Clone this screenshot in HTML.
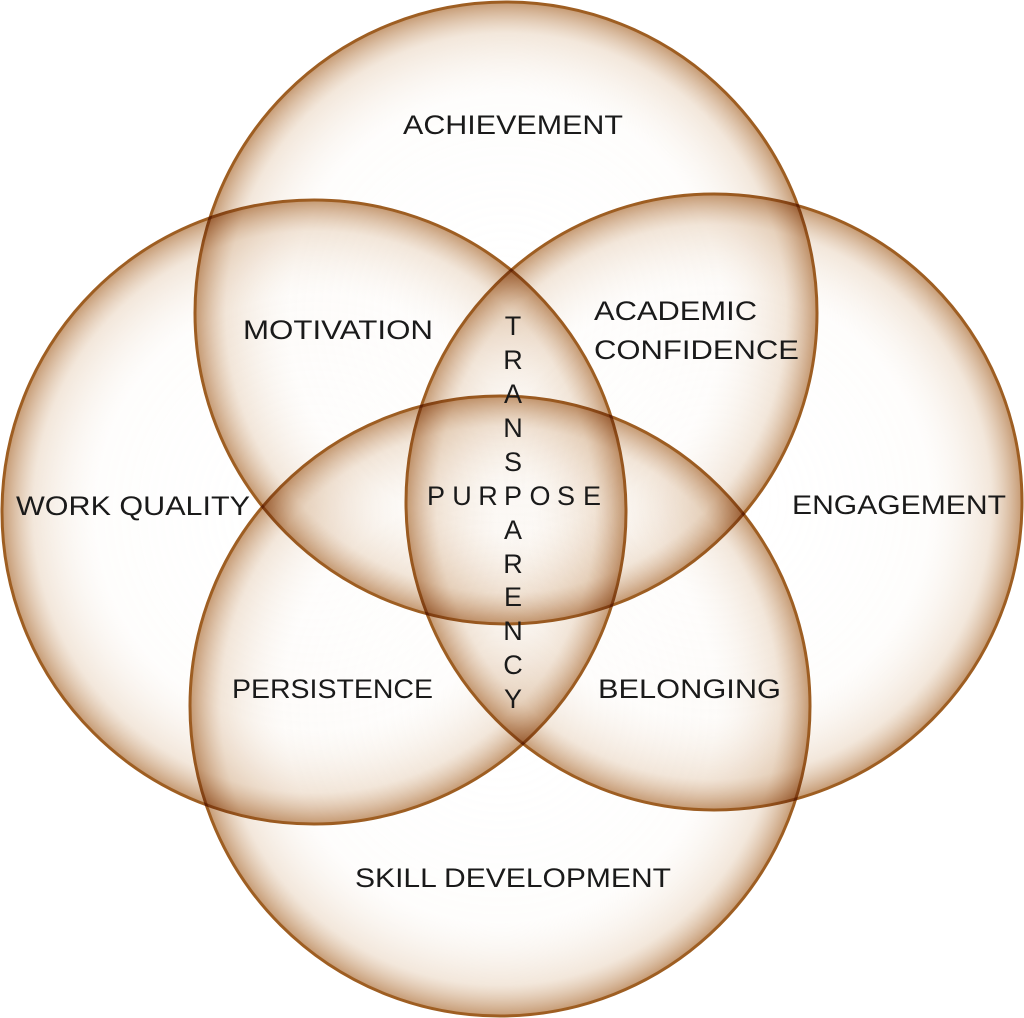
<!DOCTYPE html>
<html><head><style>
html,body{margin:0;padding:0;background:#fff;}
svg{display:block;}
text{font-family:"Liberation Sans",sans-serif;font-size:27px;fill:#1a1a1a;}
</style></head><body>
<svg width="1024" height="1018" viewBox="0 0 1024 1018" xmlns="http://www.w3.org/2000/svg">
<defs>
<radialGradient id="g" cx="50%" cy="50%" r="50%">
<stop offset="0" stop-color="#fff" stop-opacity="0"/>
<stop offset="0.7" stop-color="#f5ebe0" stop-opacity="0.1"/>
<stop offset="0.9" stop-color="#e0c3a5" stop-opacity="0.4"/>
<stop offset="1" stop-color="#b27844" stop-opacity="0.75"/>
</radialGradient>
</defs>
<g stroke="#9e5e22" stroke-width="3" fill="url(#g)">
<circle cx="506" cy="313" r="311" style="mix-blend-mode:multiply"/>
<circle cx="314" cy="512" r="312" style="mix-blend-mode:multiply"/>
<circle cx="714" cy="502" r="308" style="mix-blend-mode:multiply"/>
<circle cx="500" cy="706" r="310" style="mix-blend-mode:multiply"/>
</g>
<g lengthAdjust="spacingAndGlyphs">
<text x="403" y="134" textLength="220" lengthAdjust="spacingAndGlyphs">ACHIEVEMENT</text>
<text x="243" y="339" textLength="190" lengthAdjust="spacingAndGlyphs">MOTIVATION</text>
<text x="594" y="320" textLength="163" lengthAdjust="spacingAndGlyphs">ACADEMIC</text>
<text x="594" y="359" textLength="205" lengthAdjust="spacingAndGlyphs">CONFIDENCE</text>
<text x="16" y="515" textLength="234" lengthAdjust="spacingAndGlyphs">WORK QUALITY</text>
<text x="792" y="514" textLength="214" lengthAdjust="spacingAndGlyphs">ENGAGEMENT</text>
<text x="232" y="698" textLength="201" lengthAdjust="spacingAndGlyphs">PERSISTENCE</text>
<text x="598" y="698" textLength="183" lengthAdjust="spacingAndGlyphs">BELONGING</text>
<text x="355" y="887" textLength="316" lengthAdjust="spacingAndGlyphs">SKILL DEVELOPMENT</text>
</g>
<g text-anchor="middle">
<text x="436" y="505">P</text><text x="462" y="505">U</text><text x="488" y="505">R</text>
<text x="513" y="505">P</text><text x="540" y="505">O</text><text x="566" y="505">S</text><text x="592" y="505">E</text>
<text x="513" y="335">T</text><text x="513" y="369">R</text><text x="513" y="403">A</text>
<text x="513" y="437">N</text><text x="513" y="471">S</text>
<text x="513" y="539">A</text><text x="513" y="573">R</text>
<text x="513" y="606">E</text><text x="513" y="640">N</text><text x="513" y="674">C</text><text x="513" y="708">Y</text>
</g>
</svg>
</body></html>
